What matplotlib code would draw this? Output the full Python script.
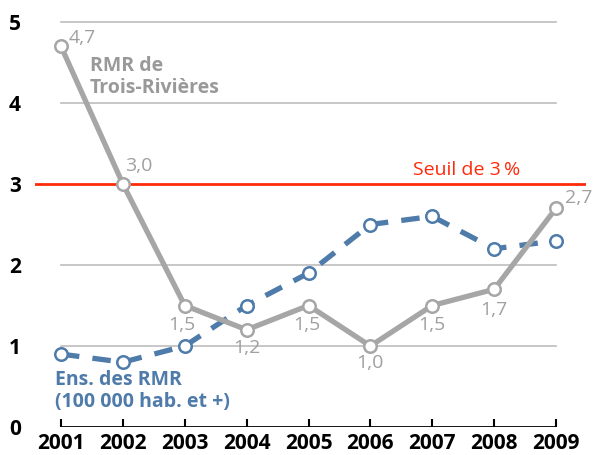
import matplotlib
matplotlib.use("Agg")
import matplotlib.pyplot as plt

years = [2001, 2002, 2003, 2004, 2005, 2006, 2007, 2008, 2009]
tr_values = [4.7, 3.0, 1.5, 1.2, 1.5, 1.0, 1.5, 1.7, 2.7]
rmr_values = [0.9, 0.8, 1.0, 1.5, 1.9, 2.5, 2.6, 2.2, 2.3]
tr_labels = ["4,7", "3,0", "1,5", "1,2", "1,5", "1,0", "1,5", "1,7", "2,7"]
yticks = [0, 1, 2, 3, 4, 5]
threshold = 3

plt.rcParams['font.family'] = ['Open Sans', 'DejaVu Sans']

W, H = 593, 455
fig = plt.figure(figsize=(W/100, H/100), dpi=100)
ax = fig.add_axes([35/W, 28/H, 551/W, 421/H])
ax.set_xlim(2001 - 26/61.875, 2009 + 30/61.875)
ax.set_ylim(0, 421/81)
for s in ax.spines.values():
    s.set_visible(False)

gray_line = '#A6A6A6'
blue = '#4E7BAA'
label_gray = '#A0A0A0'

# grid lines
for y in [1, 2, 4, 5]:
    ax.plot([2001, 2009], [y, y], color='#BDBDBD', lw=1.2, zorder=1)
# threshold
ax.axhline(threshold, color='#FF2A0A', lw=2, zorder=2)
ax.text(2007.55, 3.11, "Seuil de 3\u2009%", color='#FF2A0A', fontsize=14, ha='center', va='baseline')

# bottom axis
ax.plot([2001, 2009], [0, 0], color='black', lw=2, zorder=3, solid_capstyle='butt')
ax.set_xticks(years)
ax.set_xticklabels([str(y) for y in years], fontsize=15, fontweight='bold')
ax.tick_params(axis='x', direction='in', length=6, width=1.5, pad=4, color='black')
ax.set_yticks(yticks)
ax.set_yticklabels([str(v) for v in yticks], fontsize=15, fontweight='bold')
ax.tick_params(axis='y', length=0, pad=10)

ax.plot(years, rmr_values, color=blue, lw=3.8, ls=(0, (3.5, 2.5)), marker='o', ms=9,
        mfc='white', mec=blue, mew=1.8, zorder=4)
ax.plot(years, tr_values, color=gray_line, lw=3.8, marker='o', ms=9,
        mfc='white', mec=gray_line, mew=1.8, zorder=5)

offsets = [(21, 8), (16, 18), (-3, -20), (0, -18), (-2, -20), (0, -17), (0, -20), (0, -21), (23, 10)]
for x, y, lab, (dx, dy) in zip(years, tr_values, tr_labels, offsets):
    ax.annotate(lab, (x, y), xytext=(dx, dy), textcoords='offset pixels',
                ha='center', va='center', color=label_gray, fontsize=14)

ax.text(2001.47, 4.32, "RMR de\nTrois-Rivières", color='#999999', fontsize=14,
        fontweight='bold', ha='left', va='center', linespacing=1.12)
ax.text(2000.90, 0.44, "Ens. des RMR\n(100 000 hab. et +)", color=blue, fontsize=14,
        fontweight='bold', ha='left', va='center', linespacing=1.12)

fig.savefig("out.png", dpi=100)
